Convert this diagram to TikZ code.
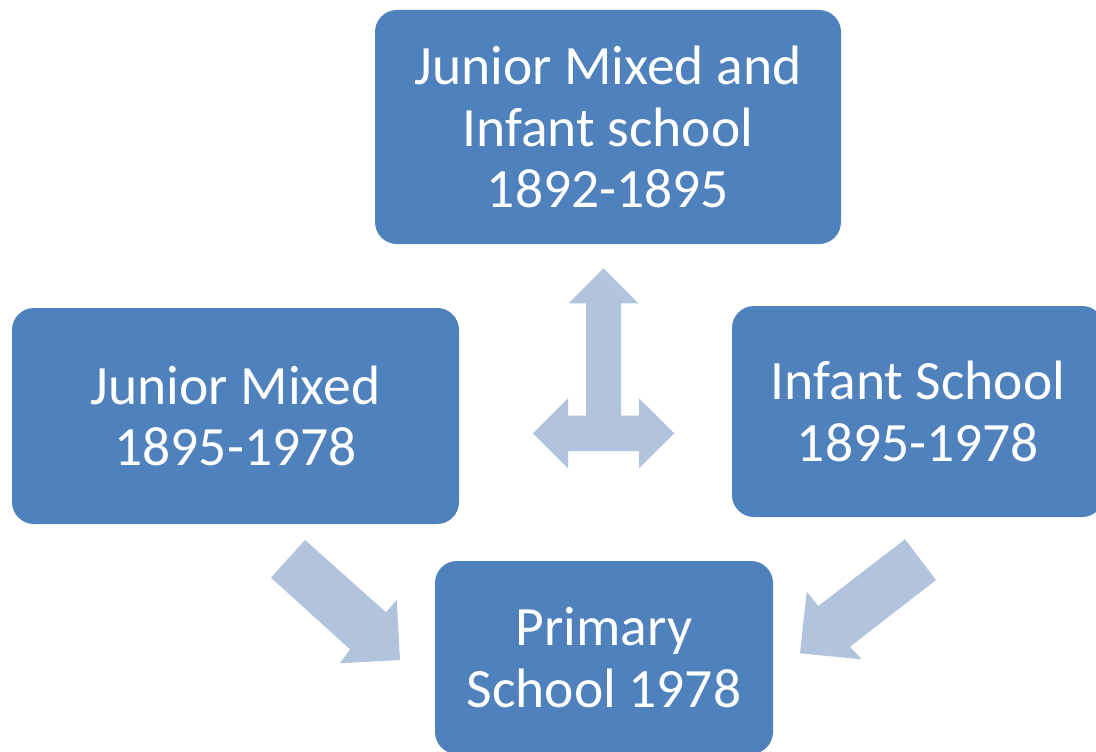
\documentclass[tikz,border=0pt]{standalone}
\usepackage{fontspec}
\setmainfont{Carlito}
\definecolor{boxblue}{RGB}{79,129,189}
\definecolor{arrowblue}{RGB}{178,195,222}

\begin{document}
\begin{tikzpicture}[x=1pt, y=-1pt,
		stage/.style={fill=boxblue, rounded corners=22pt, text=white, align=center,
			font=\fontsize{55.5}{61.5}\selectfont, inner sep=0pt},
		blockarrow/.style={fill=arrowblue}]
			%%%%% START %%%%%
			
			\useasboundingbox[fill=white] (0, 0) rectangle (1096, 752);
			
			\node[stage, minimum width=466pt, minimum height=234pt] (joint) at (608, 127) {Junior Mixed and\\Infant school\\1892-1895};
			\node[stage, minimum width=447pt, minimum height=216pt] (junior) at (235.5, 416) {Junior Mixed\\1895-1978};
			\node[stage, minimum width=372pt, minimum height=211pt] (infant) at (918, 411.5) {Infant School\\1895-1978};
			\node[stage, minimum width=338pt, minimum height=193pt] (primary) at (604, 657.5) {Primary\\School 1978};
			
			% split arrow between the three schools
			\fill[blockarrow] (603.5, 268.3) -- (638.5, 303.3) -- (621, 303.3) -- (621, 415.7)
				-- (639, 415.7) -- (639, 398.3) -- (674.3, 433.3) -- (639, 468.3) -- (639, 451)
				-- (568, 451) -- (568, 468.3) -- (533, 433.3) -- (568, 398.3) -- (568, 415.7)
				-- (586, 415.7) -- (586, 303.3) -- (568.5, 303.3) -- cycle;
			
			% junior mixed into primary
			\fill[blockarrow] (305, 540) -- (386, 612.3) -- (396.7, 600) -- (400, 660)
				-- (340, 663.3) -- (350, 649.3) -- (271, 577.7) -- cycle;
			
			% infant into primary
			\fill[blockarrow] (905, 539.3) -- (818.3, 606) -- (806.7, 591.7) -- (800, 653.3)
				-- (861.7, 659.3) -- (850, 646.7) -- (936, 580) -- cycle;
			
			%%%%% END %%%%%
\end{tikzpicture}
\end{document}
